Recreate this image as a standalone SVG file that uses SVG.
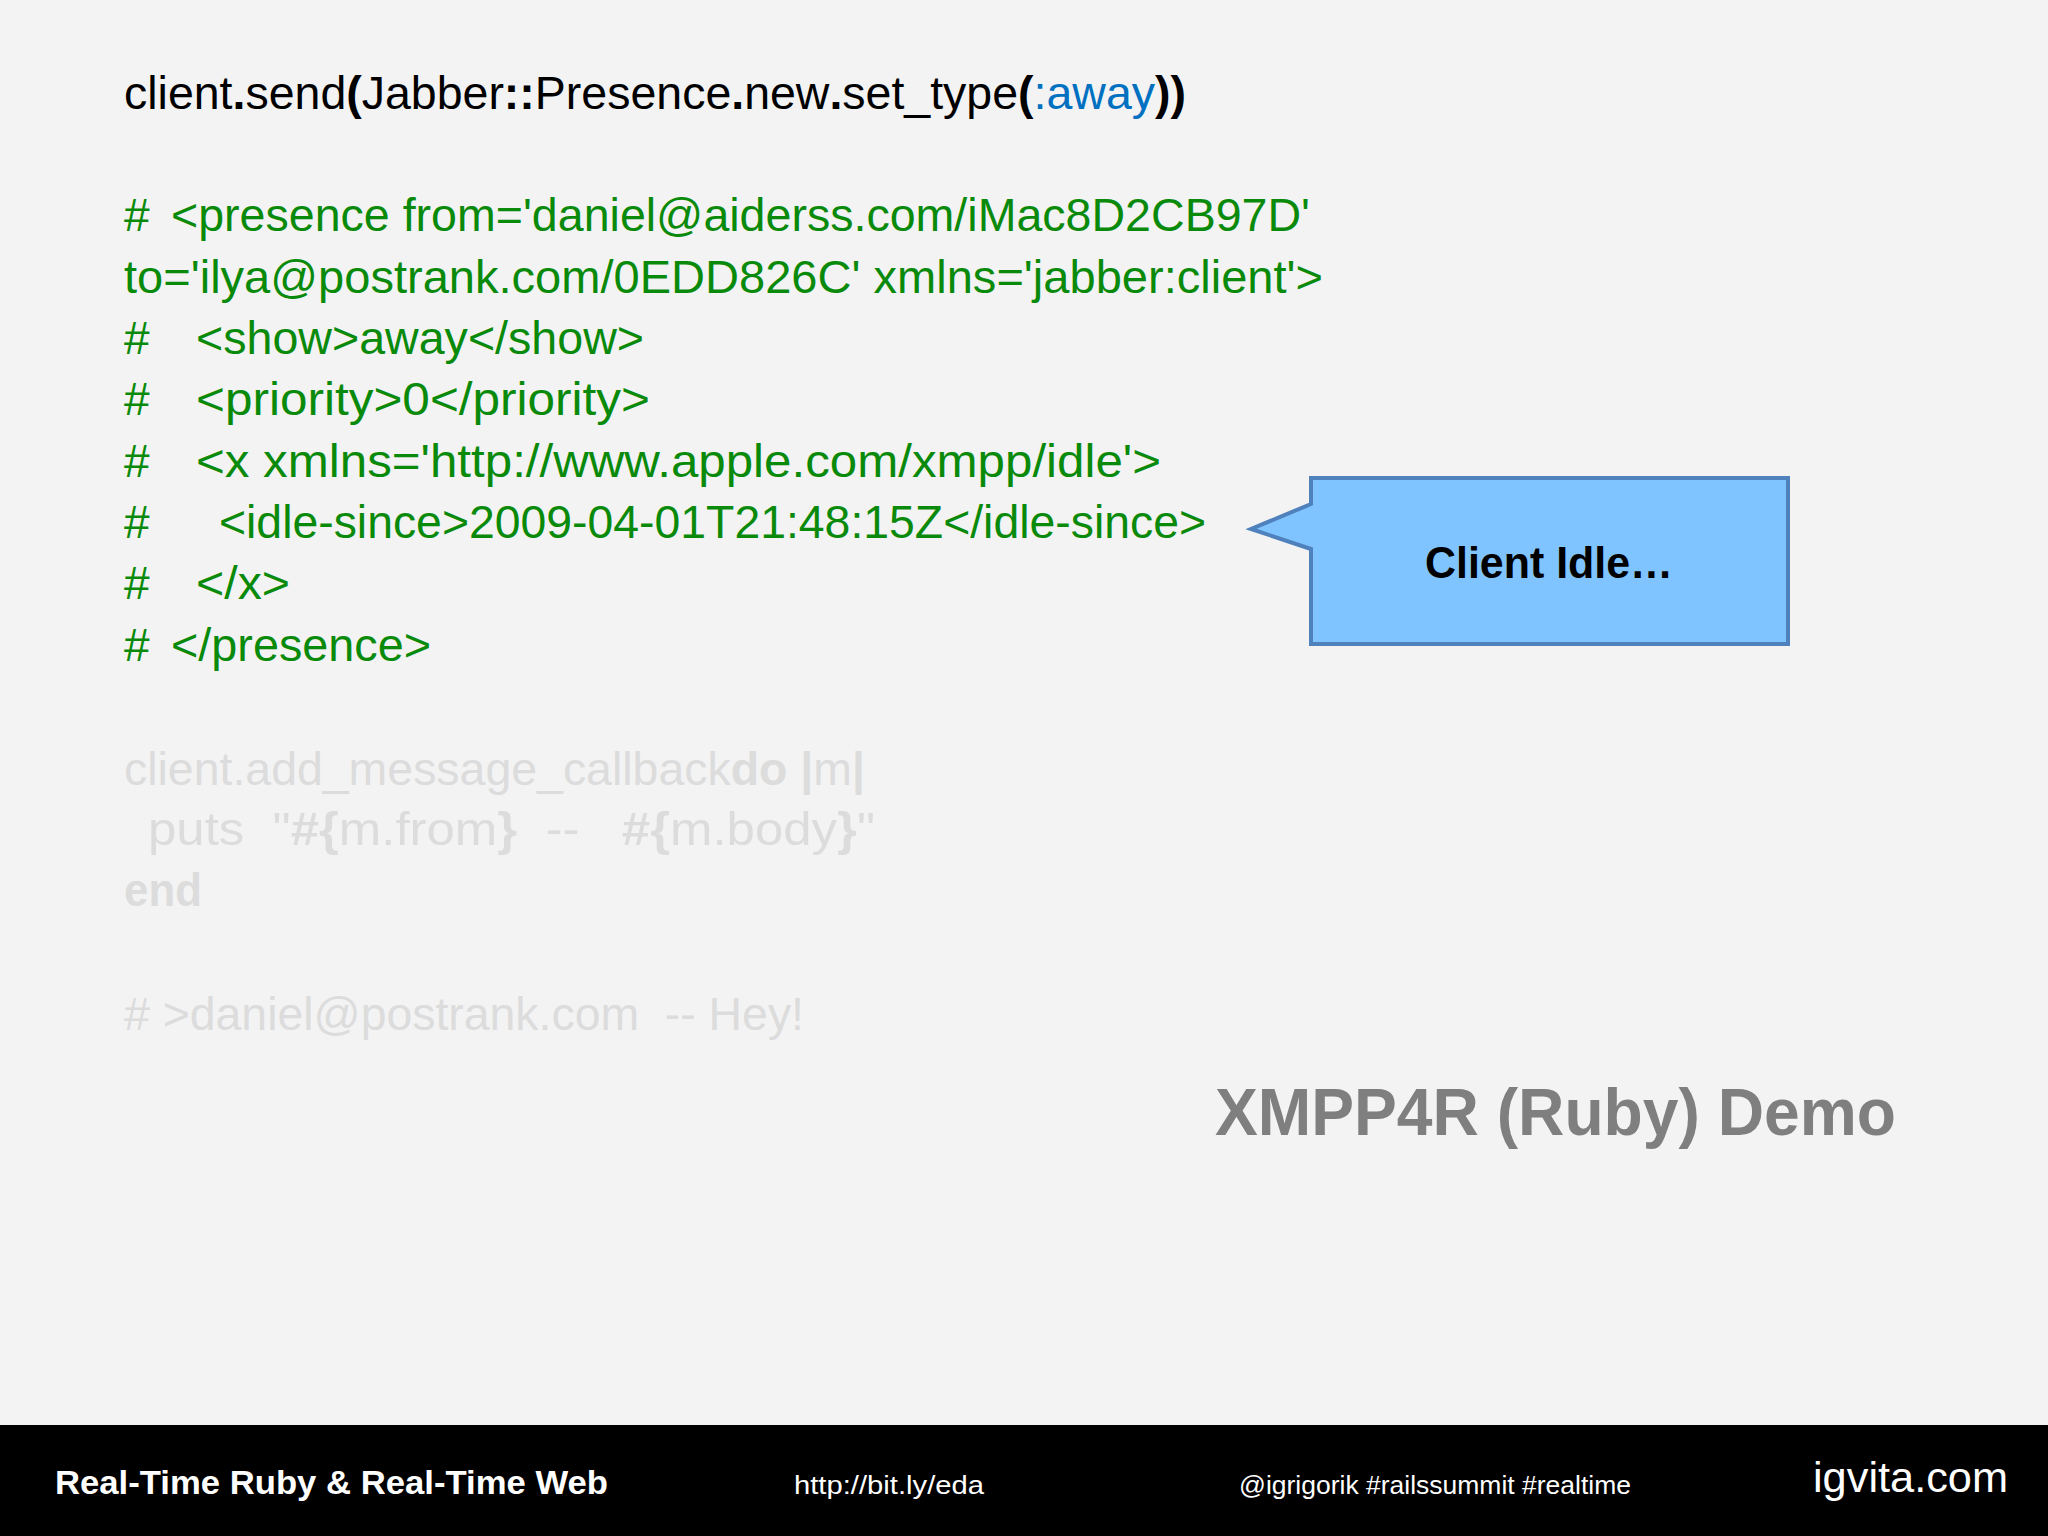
<svg xmlns="http://www.w3.org/2000/svg" width="2048" height="1536" viewBox="0 0 2048 1536">
<style>
text{font-family:"Liberation Sans",Arial,sans-serif}
.c{font-size:46px}
.g{fill:#0a8a0a}
.f{fill:#dcdcdc}
.b{font-weight:bold}
.ft{fill:#fff;font-size:26px}
</style>
<rect width="2048" height="1536" fill="#f3f3f4"/>
<g id="code">
<text class="c" x="124" y="109" textLength="1062" lengthAdjust="spacingAndGlyphs" fill="#000">client<tspan class="b">.</tspan>send<tspan class="b">(</tspan>Jabber<tspan class="b">::</tspan>Presence<tspan class="b">.</tspan>new<tspan class="b">.</tspan>set_type<tspan class="b">(</tspan><tspan fill="#0070c0">:away</tspan><tspan class="b">))</tspan></text>
<g class="g">
<text class="c" x="124" y="231">#</text>
<text class="c" x="171" y="231" textLength="1139" lengthAdjust="spacingAndGlyphs">&lt;presence from='daniel@aiderss.com/iMac8D2CB97D'</text>
<text class="c" x="124" y="293" textLength="1199" lengthAdjust="spacingAndGlyphs">to='ilya@postrank.com/0EDD826C' xmlns='jabber:client'&gt;</text>
<text class="c" x="124" y="354">#</text>
<text class="c" x="196" y="354" textLength="448" lengthAdjust="spacingAndGlyphs">&lt;show&gt;away&lt;/show&gt;</text>
<text class="c" x="124" y="415">#</text>
<text class="c" x="196" y="415" textLength="454" lengthAdjust="spacingAndGlyphs">&lt;priority&gt;0&lt;/priority&gt;</text>
<text class="c" x="124" y="477">#</text>
<text class="c" x="196" y="477" textLength="965" lengthAdjust="spacingAndGlyphs">&lt;x xmlns='http://www.apple.com/xmpp/idle'&gt;</text>
<text class="c" x="124" y="538">#</text>
<text class="c" x="219" y="538" textLength="987" lengthAdjust="spacingAndGlyphs">&lt;idle-since&gt;2009-04-01T21:48:15Z&lt;/idle-since&gt;</text>
<text class="c" x="124" y="599">#</text>
<text class="c" x="196" y="599" textLength="94" lengthAdjust="spacingAndGlyphs">&lt;/x&gt;</text>
<text class="c" x="124" y="661">#</text>
<text class="c" x="171" y="661" textLength="260" lengthAdjust="spacingAndGlyphs">&lt;/presence&gt;</text>
</g>
<g class="f">
<text class="c" x="124" y="785" textLength="741" lengthAdjust="spacingAndGlyphs">client.add_message_callback<tspan class="b">do</tspan> <tspan class="b">|</tspan>m<tspan class="b">|</tspan></text>
<text class="c" x="148" y="845" textLength="727" lengthAdjust="spacingAndGlyphs" xml:space="preserve">puts  "<tspan class="b">#{</tspan>m.from<tspan class="b">}</tspan>  --   <tspan class="b">#{</tspan>m.body<tspan class="b">}</tspan>"</text>
<text class="c b" x="124" y="906" textLength="78" lengthAdjust="spacingAndGlyphs">end</text>
<text class="c" x="124" y="1030" textLength="680" lengthAdjust="spacingAndGlyphs" xml:space="preserve"># &gt;daniel@postrank.com  -- Hey!</text>
</g>
</g>
<g id="callout">
<path d="M1311,478 H1788 V644 H1311 V549 L1251,529 L1311,504 Z" fill="#80c4ff" stroke="#4f81bd" stroke-width="4"/>
<text x="1549" y="578" text-anchor="middle" font-size="44" font-weight="bold" textLength="248" lengthAdjust="spacingAndGlyphs">Client Idle…</text>
</g>
<text x="1215" y="1135" font-size="66" font-weight="bold" fill="#7f7f7f" textLength="681" lengthAdjust="spacingAndGlyphs">XMPP4R (Ruby) Demo</text>
<g id="footer">
<rect y="1425" width="2048" height="111" fill="#000"/>
<text class="ft b" x="55" y="1494" font-size="34" textLength="553" lengthAdjust="spacingAndGlyphs" style="font-size:34px">Real-Time Ruby &amp; Real-Time Web</text>
<text class="ft" x="794" y="1494" textLength="190" lengthAdjust="spacingAndGlyphs">http://bit.ly/eda</text>
<text class="ft" x="1239" y="1494" textLength="392" lengthAdjust="spacingAndGlyphs">@igrigorik #railssummit #realtime</text>
<text x="1813" y="1492" font-size="42" fill="#fff" textLength="195" lengthAdjust="spacingAndGlyphs">igvita.com</text>
</g>
</svg>
